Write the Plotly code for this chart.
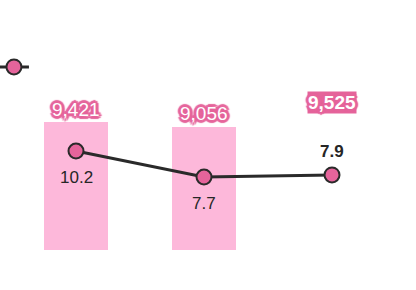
import plotly.graph_objects as go

categories = ["A", "B", "C"]
bar_values = [9421, 9056, 9525]
bar_labels = ["9,421", "9,056", "9,525"]
line_values = [10.2, 7.7, 7.9]
line_labels = ["10.2", "7.7", "7.9"]

PINK = "#e5649b"
BAR = "#fdb8da"
DARK = "#2a2a2a"

fig = go.Figure()
fig.add_trace(go.Bar(
    x=categories, y=bar_values,
    marker=dict(color=[BAR, BAR, "rgba(0,0,0,0)"], line=dict(width=0)),
    showlegend=False, hoverinfo="skip", yaxis="y",
))
fig.add_trace(go.Scatter(
    x=categories, y=line_values, mode="lines+markers", name="",
    line=dict(color=DARK, width=3),
    marker=dict(color=PINK, size=15, line=dict(color=DARK, width=2)),
    yaxis="y2", showlegend=True,
))

offs = [(2, 0), (-2, 0), (0, 2), (0, -2), (2, 2), (-2, 2), (2, -2), (-2, -2), (3, 0), (-3, 0), (0, 3), (0, -3)]
glow = ", ".join(f"{dx}px {dy}px 1px {PINK}" for dx, dy in offs)
annotations = []
for i, (c, v, t) in enumerate(zip(categories, bar_values, bar_labels)):
    last = i == len(categories) - 1
    annotations.append(dict(
        x=c, y=v, xref="x", yref="y", text=f"<b>{t}</b>" if last else t,
        showarrow=False, yshift=18 if last else 13,
        font=dict(family="Liberation Sans Narrow, Liberation Sans, Arial", size=19,
                  color="white", shadow=glow),
        bgcolor=PINK if last else None, borderpad=0,
    ))
for i, (c, v, t) in enumerate(zip(categories, line_values, line_labels)):
    last = i == len(categories) - 1
    annotations.append(dict(
        x=c, y=v, xref="x", yref="y2", text=f"<b>{t}</b>" if last else t,
        showarrow=False, yshift=23 if last else -26,
        font=dict(family="Liberation Sans, Arial", size=17, color="#262626"),
    ))

fig.update_layout(
    width=416, height=290,
    margin=dict(l=12, r=20, t=20, b=40, autoexpand=False),
    paper_bgcolor="white", plot_bgcolor="white",
    bargap=0.5,
    xaxis=dict(visible=False),
    yaxis=dict(visible=False, range=[0, 16930]),
    yaxis2=dict(visible=False, range=[0.68, 22.8], overlaying="y"),
    legend=dict(x=-0.047, y=0.796, xanchor="left", yanchor="middle",
                bgcolor="rgba(0,0,0,0)", font=dict(size=1)),
    annotations=annotations,
)
fig.write_html("out.html")
